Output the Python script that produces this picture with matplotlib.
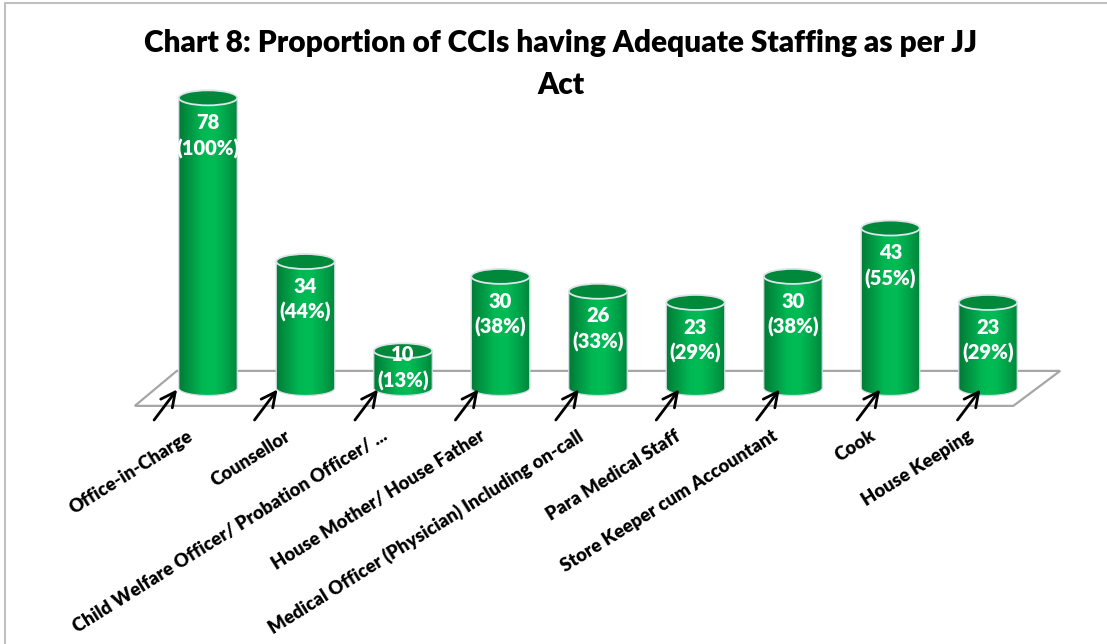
import numpy as np
import matplotlib.pyplot as plt
from matplotlib.patches import Ellipse, Polygon
from matplotlib.colors import LinearSegmentedColormap
from matplotlib.lines import Line2D

plt.rcParams['font.family'] = ['Lato', 'DejaVu Sans']

# data
categories = ["Office-in-Charge", "Counsellor", "Child Welfare Officer/ Probation Officer/ ...",
              "House Mother/ House Father", "Medical Officer (Physician) Including on-call",
              "Para Medical Staff", "Store Keeper cum Accountant", "Cook", "House Keeping"]
counts = [78, 34, 10, 30, 26, 23, 30, 43, 23]
percents = [100, 44, 13, 38, 33, 29, 38, 55, 29]

W, H = 1107, 644
fig = plt.figure(figsize=(W / 100, H / 100), dpi=100)
ax = fig.add_axes([0, 0, 1, 1])

# pixel scale of the fake 3d chart: one category step and one count unit
px_cat, px_val = 97.5, 3.72
x0, y0 = 208, 388  # pixel of first bar base

cmap = LinearSegmentedColormap.from_list(
    "cyl", ["#007C36", "#009A45", "#00B853", "#00BC55", "#00A54A", "#00863B"])
grad = np.linspace(0, 1, 64).reshape(1, -1)

n = len(categories)
hw = 0.3                 # half width of a cylinder (category units)
eh = 15 / px_val         # ellipse height in count units

# floor
floor = Polygon([(-0.75, -4.8), (-0.32, 4.6), (n - 1 + 0.74, 4.6), (n - 1 + 0.26, -4.8)],
                closed=True, facecolor="white", edgecolor="#A6A6A6", lw=1.6, zorder=1)
ax.add_patch(floor)

t = np.linspace(np.pi, 2 * np.pi, 50)
for i, (c, p) in enumerate(zip(counts, percents)):
    verts = [(i - hw, c)] + list(zip(i + hw * np.cos(t), eh / 2 * np.sin(t))) + [(i + hw, c)]
    body = Polygon(verts, closed=True, facecolor="none", edgecolor="#D3DCE4", lw=0.9, zorder=3)
    ax.add_patch(body)
    im = ax.imshow(grad, cmap=cmap, aspect="auto", interpolation="bicubic",
                   extent=[i - hw, i + hw, -eh / 2, c], zorder=2.5)
    im.set_clip_path(body)
    ax.add_patch(Ellipse((i, c), 2 * hw, eh, facecolor="#00893B",
                         edgecolor="#DDE4EB", lw=1.3, zorder=4))

    ax.text(i, max(c - 10.2, 5.4), f"{c}\n({p}%)", ha="center", va="center",
            color="white", fontsize=14.5, fontweight="heavy", linespacing=1.4, zorder=6)

    hx = i - 0.30 + 0.03 * i
    ax.annotate("", xy=(hx, 0.2), xytext=(hx - 0.27, -9.2), annotation_clip=False,
                arrowprops=dict(arrowstyle="->", lw=2.0, color="black", mutation_scale=26),
                zorder=5)

    ax.text(i - 0.22, -10.5, categories[i], rotation=32, rotation_mode="anchor",
            ha="right", va="top", fontsize=13.3, fontweight="heavy", color="black")

ax.set_xlim(-x0 / px_cat, (W - x0) / px_cat)
ax.set_ylim((y0 - H) / px_val, y0 / px_val)
ax.axis("off")

fig.text(561 / W, 1 - 29 / H,
         "Chart 8: Proportion of CCIs having Adequate Staffing as per JJ\nAct",
         ha="center", va="top", fontsize=21.5, fontweight="heavy", linespacing=1.6)

# thin frame of the chart area (left and top edges)
fig.add_artist(Line2D([5 / W, 5 / W, 1], [0, 1 - 3 / H, 1 - 3 / H],
                      transform=fig.transFigure, color="#C0C0C0", lw=1.5))

fig.savefig("out.png", dpi=100)
